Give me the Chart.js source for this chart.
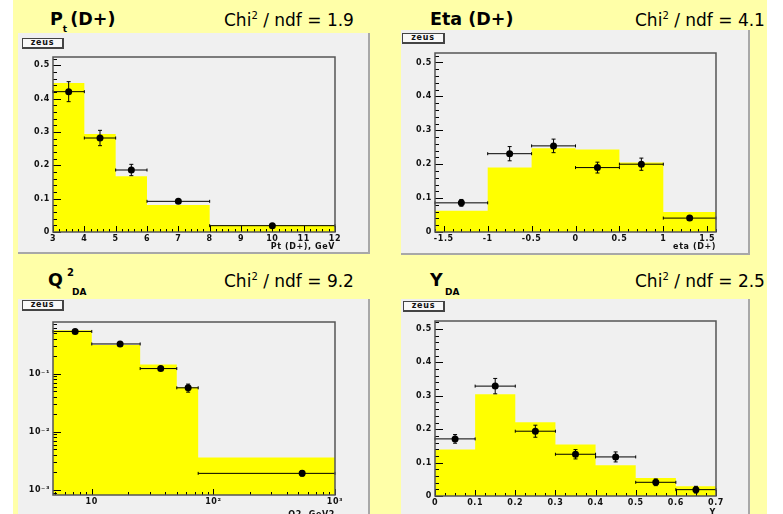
<!DOCTYPE html>
<html>
<head>
<meta charset="utf-8">
<script src="https://cdn.jsdelivr.net/npm/chart.js@4.4.1/dist/chart.umd.min.js"></script>
<style>
  html, body { margin: 0; padding: 0; background: #fff; }
  #page { position: relative; width: 783px; height: 514px; overflow: hidden; background: #fff; }
  #slide { position: absolute; left: 13px; top: 0; width: 754px; height: 514px; background: #ffffa8; }
  .panel { position: absolute; background: #f0f0f0; box-sizing: border-box;
           border-right: 2px solid #a8a8a8; border-bottom: 2px solid #a8a8a8; overflow: hidden; }
  .panel canvas { position: absolute; left: 0; top: 0; }
  .zeus { position: absolute; height: 11px; box-sizing: border-box; background: #f8f8f8;
          border: 1px solid #444; border-right-width: 2px; border-bottom-width: 2px;
          font: bold 8px 'DejaVu Sans'; line-height: 8px; text-align: center; letter-spacing: 0.8px; color: #111; }
  .name { position: absolute; font: bold 17.5px 'DejaVu Sans'; line-height: 17.5px; white-space: nowrap; color: #000; }
  .chi { position: absolute; font: 17px 'DejaVu Sans'; line-height: 17px; white-space: nowrap; color: #000; }
  .chi sup { font-size: 10px; line-height: 0; vertical-align: 7px; }
  .small { position: absolute; font: bold 9px 'DejaVu Sans'; line-height: 9px; white-space: nowrap; }
</style>
</head>
<body>
<div id="page">
  <div id="slide"></div>

  <div class="name" style="left:50px;top:11px">P<span style="font-size:9px;vertical-align:-7px;line-height:0">t </span>(D+)</div>
  <div class="chi" style="left:224px;top:12px">Chi<sup>2</sup> / ndf = 1.9</div>
  <div class="name" style="left:430px;top:11px">Eta (D+)</div>
  <div class="chi" style="left:635px;top:12px">Chi<sup>2</sup> / ndf = 4.1</div>

  <div class="name" style="left:48px;top:272px">Q</div>
  <div class="small" style="left:67px;top:268px;font-size:10px">2</div>
  <div class="small" style="left:72px;top:288px">DA</div>
  <div class="chi" style="left:224px;top:273px">Chi<sup>2</sup> / ndf = 9.2</div>
  <div class="name" style="left:430px;top:272px">Y</div>
  <div class="small" style="left:445px;top:288px">DA</div>
  <div class="chi" style="left:635px;top:273px">Chi<sup>2</sup> / ndf = 2.5</div>

  <div class="panel" style="left:18px;top:33px;width:352px;height:221px"><canvas id="c1" width="352" height="221"></canvas></div>
  <div class="panel" style="left:401px;top:30px;width:349px;height:225px"><canvas id="c2" width="349" height="225"></canvas></div>
  <div class="panel" style="left:18px;top:299px;width:352px;height:225px"><canvas id="c3" width="352" height="225"></canvas></div>
  <div class="panel" style="left:401px;top:299px;width:349px;height:225px"><canvas id="c4" width="349" height="225"></canvas></div>

  <div class="zeus" style="left:22px;top:38px;width:42px">zeus</div>
  <div class="zeus" style="left:402px;top:33px;width:43px">zeus</div>
  <div class="zeus" style="left:22px;top:300px;width:42px">zeus</div>
  <div class="zeus" style="left:403px;top:301px;width:42px">zeus</div>
</div>

<script>
// Pt (D+) : bins, MC histogram, data points
const ptEdges = [3, 4, 5, 6, 8, 12];
const ptMC = [0.447, 0.294, 0.167, 0.081, 0.02];
const ptX = [3.5, 4.5, 5.5, 7, 10];
const ptY = [0.421, 0.282, 0.186, 0.092, 0.019];
const ptErr = [0.03, 0.023, 0.017, 0.005, 0.003];
const ptXTicks = [3, 4, 5, 6, 7, 8, 9, 10, 11, 12];
const ptXLabels = ['3', '4', '5', '6', '7', '8', '9', '10', '11', '12'];

// Eta (D+)
const etaEdges = [-1.6, -1, -0.5, 0, 0.5, 1, 1.6];
const etaMC = [0.063, 0.19, 0.247, 0.243, 0.205, 0.059];
const etaX = [-1.3, -0.75, -0.25, 0.25, 0.75, 1.3];
const etaY = [0.086, 0.231, 0.254, 0.19, 0.2, 0.041];
const etaErr = [0.01, 0.021, 0.02, 0.016, 0.018, 0.006];
const etaXTicks = [-1.5, -1, -0.5, 0, 0.5, 1, 1.5];
const etaXLabels = ['-1.5', '-1', '-0.5', '0', '0.5', '1', '1.5'];

// Q2 DA (log-log)
const q2Edges = [4.8, 10, 25, 50, 75, 1000];
const q2MC = [0.553, 0.31, 0.143, 0.058, 0.0036];
const q2X = [7.3, 17.1, 36.9, 62, 537];
const q2Y = [0.53, 0.323, 0.122, 0.057, 0.00193];
const q2Err = [0.03, 0.015, 0.006, 0.009, 0.0002];
const q2XTicks = [10, 100, 1000];
const q2XLabels = ['10', '10²', '10³'];
const q2YTicks = [0.001, 0.01, 0.1];
const q2YLabels = ['10⁻³', '10⁻²', '10⁻¹'];

// Y DA
const yEdges = [0, 0.1, 0.2, 0.3, 0.4, 0.5, 0.6, 0.7];
const yMC = [0.139, 0.305, 0.221, 0.154, 0.092, 0.054, 0.029];
const yX = [0.05, 0.15, 0.25, 0.35, 0.45, 0.55, 0.65];
const yY = [0.171, 0.329, 0.194, 0.125, 0.117, 0.041, 0.019];
const yErr = [0.013, 0.023, 0.018, 0.014, 0.015, 0.01, 0.01];
const yXTicks = [0, 0.1, 0.2, 0.3, 0.4, 0.5, 0.6, 0.7];
const yXLabels = ['0', '0.1', '0.2', '0.3', '0.4', '0.5', '0.6', '0.7'];

// common linear y ticks
const fracTicks = [0, 0.1, 0.2, 0.3, 0.4, 0.5];
const fracLabels = ['0', '0.1', '0.2', '0.3', '0.4', '0.5'];

const FONT = { family: 'DejaVu Sans', size: 8, weight: 'bold' };

// histogram outline as stepped line
function histPoints(edges, vals, base) {
  const pts = [{ x: edges[0], y: base }];
  vals.forEach((v, i) => pts.push({ x: edges[i], y: v }));
  pts.push({ x: edges[edges.length - 1], y: vals[vals.length - 1] });
  pts.push({ x: edges[edges.length - 1], y: base });
  return pts;
}

function linTicks(min, max, step, sub) {
  const out = [], d = step / sub;
  for (let k = Math.ceil(min / d - 1e-6); k * d <= max + 1e-9; k++) {
    out.push({ v: k * d, major: Math.abs(Math.round(k * d / step) * step - k * d) < 1e-9 });
  }
  return out;
}
function logTicks(min, max) {
  const out = [];
  for (let e = Math.floor(Math.log10(min)); e <= Math.ceil(Math.log10(max)); e++) {
    for (let m = 1; m < 10; m++) {
      const v = m * Math.pow(10, e);
      if (v >= min * 0.999 && v <= max * 1.001) out.push({ v, major: m === 1 });
    }
  }
  return out;
}

// error bars on data points (x bar = bin width)
const errorBars = {
  id: 'errorBars',
  afterDatasetsDraw(chart) {
    const ctx = chart.ctx, xs = chart.scales.x, ys = chart.scales.y;
    chart.data.datasets.forEach(ds => {
      if (!ds.yErr) return;
      ctx.save();
      ctx.strokeStyle = '#000';
      ctx.lineWidth = 1;
      ds.data.forEach((p, i) => {
        const px = xs.getPixelForValue(p.x), py = ys.getPixelForValue(p.y);
        const x0 = xs.getPixelForValue(ds.edges[i]), x1 = xs.getPixelForValue(ds.edges[i + 1]);
        const y0 = ys.getPixelForValue(p.y - ds.yErr[i]), y1 = ys.getPixelForValue(p.y + ds.yErr[i]);
        ctx.beginPath();
        ctx.moveTo(x0, py); ctx.lineTo(x1, py);
        ctx.moveTo(x0, py - 1.5); ctx.lineTo(x0, py + 1.5);
        ctx.moveTo(x1, py - 1.5); ctx.lineTo(x1, py + 1.5);
        ctx.moveTo(px, y0); ctx.lineTo(px, y1);
        ctx.moveTo(px - 2, y0); ctx.lineTo(px + 2, y0);
        ctx.moveTo(px - 2, y1); ctx.lineTo(px + 2, y1);
        ctx.stroke();
      });
      ctx.restore();
    });
  }
};

// ROOT style frame with inner ticks
const rootFrame = {
  id: 'rootFrame',
  beforeDraw(chart) { chart.ctx.letterSpacing = '0.6px'; },
  afterDatasetsDraw(chart, args, o) {
    const { ctx, chartArea: a, scales: { x, y } } = chart;
    const xt = o.xLog ? logTicks(x.min, x.max) : linTicks(x.min, x.max, o.xStep, o.xSub);
    const yt = o.yLog ? logTicks(y.min, y.max) : linTicks(y.min, y.max, o.yStep, o.ySub);
    ctx.save();
    ctx.strokeStyle = '#000';
    ctx.lineWidth = 1;
    ctx.beginPath();
    xt.forEach(t => {
      const px = Math.round(x.getPixelForValue(t.v)) + 0.5;
      ctx.moveTo(px, a.bottom); ctx.lineTo(px, a.bottom - (t.major ? 6 : 3));
    });
    yt.forEach(t => {
      const py = Math.round(y.getPixelForValue(t.v)) + 0.5;
      ctx.moveTo(a.left, py); ctx.lineTo(a.left + (t.major ? 8 : 4), py);
    });
    ctx.stroke();
    ctx.strokeStyle = '#555';
    ctx.lineWidth = 1.5;
    ctx.strokeRect(a.left, a.top, a.right - a.left, a.bottom - a.top);
    ctx.restore();
  }
};

function makeChart(id, d) {
  const base = d.yLog ? d.yMin : 0;
  return new Chart(document.getElementById(id), {
    type: 'scatter',
    data: {
      datasets: [
        {
          data: d.xs.map((v, i) => ({ x: v, y: d.ys[i] })),
          yErr: d.errs, edges: d.edges,
          pointRadius: 3.5, pointBackgroundColor: '#000', pointBorderWidth: 0,
          showLine: false, order: 1
        },
        {
          type: 'line',
          data: histPoints(d.edges, d.mc, base),
          stepped: 'before', fill: d.yLog ? 'start' : 'origin',
          backgroundColor: '#ffff00', borderColor: 'rgba(0,0,0,0)', borderWidth: 1,
          pointRadius: 0, order: 2
        }
      ]
    },
    options: {
      responsive: false, animation: false, events: [],
      layout: { padding: { left: 0, top: d.top, right: d.right, bottom: 0 } },
      plugins: {
        legend: { display: false }, tooltip: { enabled: false },
        rootFrame: { xLog: d.xLog, yLog: d.yLog, xStep: d.xStep, xSub: d.xSub, yStep: 0.1, ySub: 5 }
      },
      scales: {
        x: {
          type: d.xLog ? 'logarithmic' : 'linear', min: d.xMin, max: d.xMax,
          grid: { display: false, drawTicks: false }, border: { display: false },
          afterBuildTicks: s => { s.ticks = d.xTicks.map(v => ({ value: v })); },
          afterFit: s => { s.height = d.xH; },
          ticks: { autoSkip: false, maxRotation: 0, padding: 2, color: '#111', font: FONT,
                   callback: (v, i) => d.xLabels[i] },
          title: { display: true, text: d.xTitle, align: 'end', color: '#111', font: FONT,
                   padding: { top: 0, bottom: d.titlePad } }
        },
        y: {
          type: d.yLog ? 'logarithmic' : 'linear', min: d.yMin, max: d.yMax,
          grid: { display: false, drawTicks: false }, border: { display: false },
          afterBuildTicks: s => { s.ticks = d.yTicks.map(v => ({ value: v })); },
          afterFit: s => { s.width = d.yW; },
          ticks: { autoSkip: false, padding: 3, color: '#111', font: FONT,
                   callback: (v, i) => d.yLabels[i] }
        }
      }
    },
    plugins: [errorBars, rootFrame]
  });
}

makeChart('c1', {
  edges: ptEdges, mc: ptMC, xs: ptX, ys: ptY, errs: ptErr,
  xMin: 3, xMax: 12, yMin: 0, yMax: 0.525, xStep: 1, xSub: 5,
  xTicks: ptXTicks, xLabels: ptXLabels, yTicks: fracTicks, yLabels: fracLabels,
  xTitle: 'Pt (D+), GeV', titlePad: 2, top: 24, right: 35, yW: 35, xH: 22
});
makeChart('c2', {
  edges: etaEdges, mc: etaMC, xs: etaX, ys: etaY, errs: etaErr,
  xMin: -1.6, xMax: 1.6, yMin: 0, yMax: 0.528, xStep: 0.5, xSub: 5,
  xTicks: etaXTicks, xLabels: etaXLabels, yTicks: fracTicks, yLabels: fracLabels,
  xTitle: 'eta (D+)', titlePad: 3, top: 23, right: 34, yW: 34, xH: 23
});
makeChart('c3', {
  edges: q2Edges, mc: q2MC, xs: q2X, ys: q2Y, errs: q2Err,
  xMin: 4.8, xMax: 1000, yMin: 0.00082, yMax: 0.77, xLog: true, yLog: true,
  xTicks: q2XTicks, xLabels: q2XLabels, yTicks: q2YTicks, yLabels: q2YLabels,
  xTitle: 'Q2, GeV2', titlePad: 4, top: 23, right: 35, yW: 35, xH: 29
});
makeChart('c4', {
  edges: yEdges, mc: yMC, xs: yX, ys: yY, errs: yErr,
  xMin: 0, xMax: 0.7, yMin: 0, yMax: 0.524, xStep: 0.1, xSub: 4,
  xTicks: yXTicks, xLabels: yXLabels, yTicks: fracTicks, yLabels: fracLabels,
  xTitle: 'Y', titlePad: 6, top: 22, right: 34, yW: 34, xH: 28
});
</script>
</body>
</html>
